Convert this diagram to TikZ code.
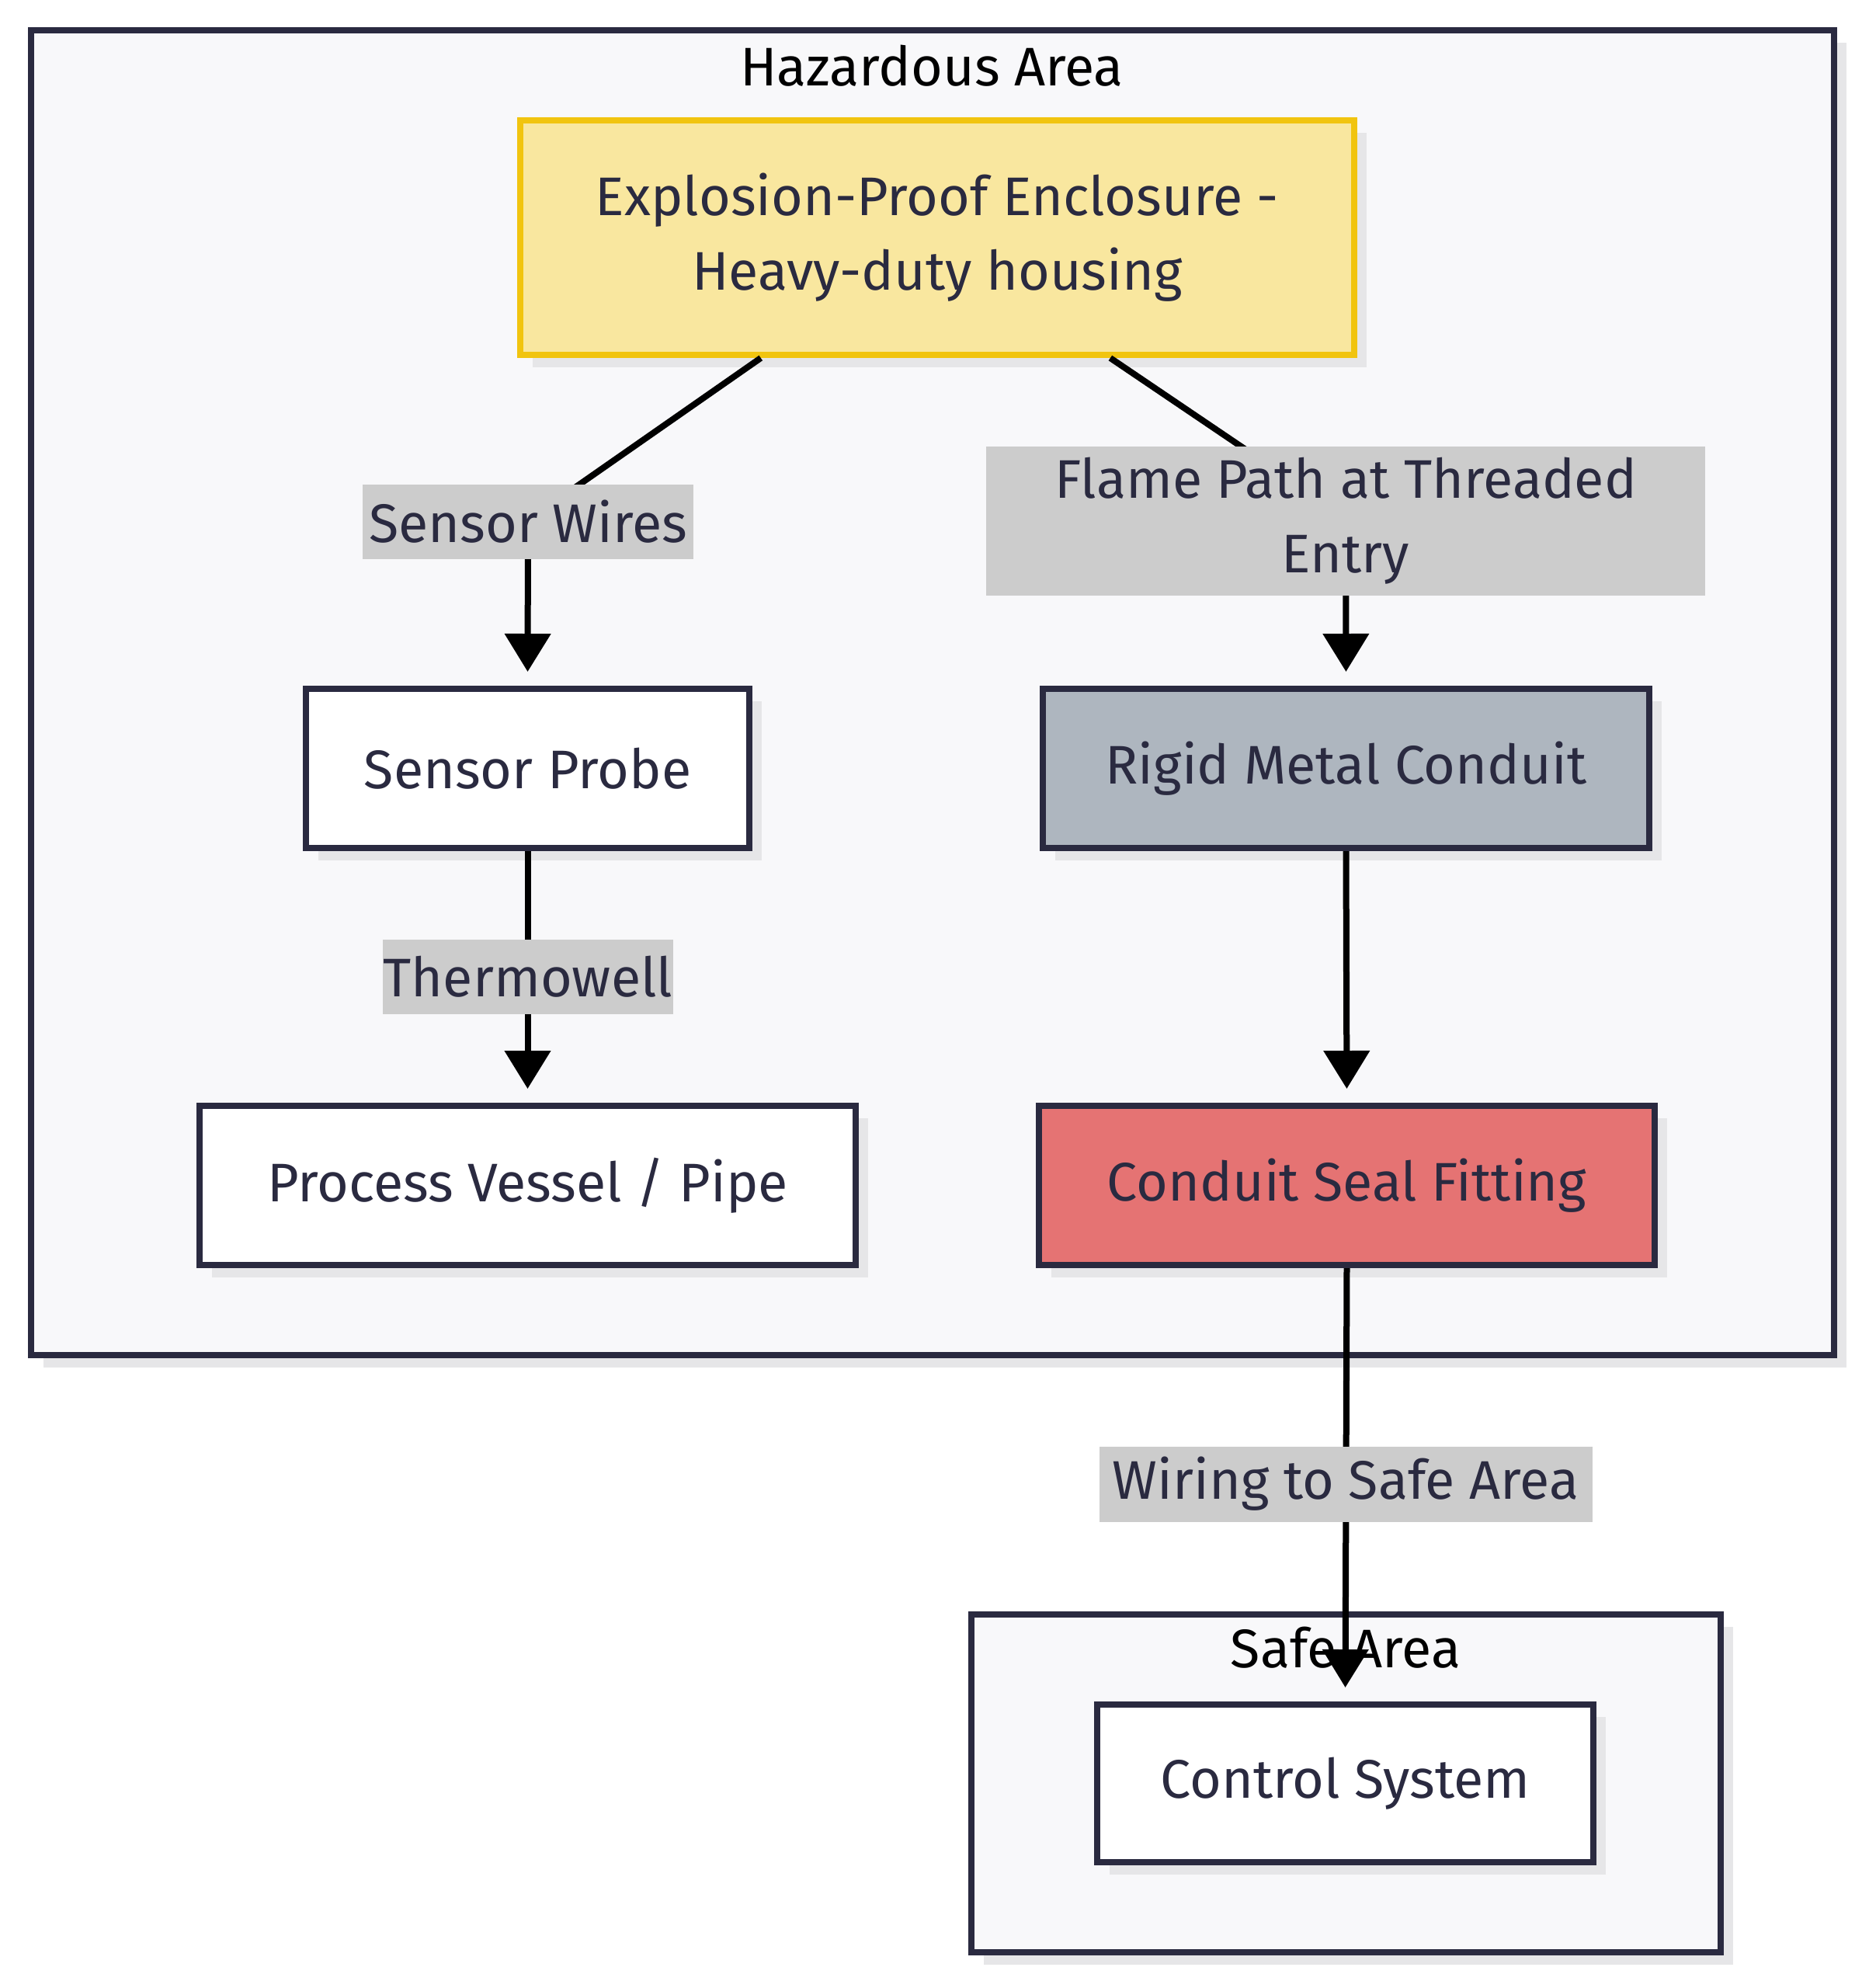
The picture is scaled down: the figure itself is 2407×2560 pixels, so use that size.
\documentclass[tikz,border=0pt]{standalone}
\usepackage{fontspec}
\setmainfont{Fira Sans}
\usetikzlibrary{arrows.meta,calc,shadows}
\definecolor{clusterfill}{HTML}{F8F8FA}
\definecolor{darkline}{HTML}{2A2A40}
\definecolor{txt}{HTML}{2A2A40}
\definecolor{shadowc}{HTML}{E6E6E8}
\definecolor{expfill}{HTML}{F9E79F}
\definecolor{expline}{HTML}{F1C40F}
\definecolor{rigidfill}{HTML}{AEB6BF}
\definecolor{sealfill}{HTML}{E57373}
\definecolor{lblfill}{HTML}{CCCCCC}
\begin{document}
\begin{tikzpicture}[x=1pt,y=-1pt,
  every node/.style={font=\fontsize{70}{96}\selectfont, text=txt, inner sep=0pt},
  shadowed/.style={drop shadow={shadow xshift=16pt, shadow yshift=-16pt, fill=shadowc, opacity=1}},
  cluster/.style={draw=darkline, line width=8pt, fill=clusterfill, shadowed},
  box/.style={draw=darkline, line width=8pt, fill=white, shadowed, align=center, minimum height=209pt},
  lbl/.style={fill=lblfill, align=center},
  conn/.style={line width=8pt, draw=black, -{Triangle[length=49pt,width=58pt]}, shorten >=18pt},
  title/.style={text=black}
]
\useasboundingbox[fill=white] (0,0) rectangle (2407,2560);

% clusters
\node[cluster, minimum width=2322pt, minimum height=1706pt] (haz) at (1201,892) {};
\node[title] (hazt) at (1200,85) {Hazardous Area};
\node[cluster, minimum width=965pt, minimum height=435pt] (safe) at (1733.5,2296.5) {};
\node[title] (safet) at (1733,2122) {Safe Area};

% nodes
\node[box, fill=expfill, draw=expline, minimum width=1074pt, minimum height=302pt] (exp) at (1207,306) {Explosion-Proof Enclosure -\\Heavy-duty housing};
\node[box, minimum width=571pt, minimum height=205pt] (probe) at (679.5,989.5) {Sensor Probe};
\node[box, fill=rigidfill, minimum width=781pt, minimum height=205pt] (rigid) at (1733.5,989.5) {Rigid Metal Conduit};
\node[box, minimum width=845pt, minimum height=205pt] (vessel) at (679.5,1526.5) {Process Vessel / Pipe};
\node[box, fill=sealfill, minimum width=793pt, minimum height=205pt] (seal) at (1734.5,1526.5) {Conduit Seal Fitting};
\node[box, minimum width=639pt, minimum height=203pt] (control) at (1732.5,2296.5) {Control System};

% bend points
\coordinate (b1) at (680,670);
\coordinate (b2) at (1733,666);

% connectors
\draw[conn] ($(exp.south west)!0.29!(exp.south east)$) -- (b1) -- (probe.north);
\draw[conn] ($(exp.south west)!0.706!(exp.south east)$) -- (b2) -- (rigid.north);
\draw[conn] (probe.south) -- (vessel.north);
\draw[conn] (rigid.south) -- (seal.north);
\draw[conn] (seal.south) -- (control.north);

% edge labels
\node[lbl, minimum width=426pt, minimum height=96pt] (l1) at (680,672) {Sensor Wires};
\node[lbl, minimum width=926pt, minimum height=192pt] (l2) at (1733,671) {Flame Path at Threaded\\Entry};
\node[lbl, minimum width=374pt, minimum height=96pt] (l3) at (680,1258) {Thermowell};
\node[lbl, minimum width=635pt, minimum height=97pt] (l4) at (1733,1911) {Wiring to Safe Area};
\end{tikzpicture}
\end{document}
